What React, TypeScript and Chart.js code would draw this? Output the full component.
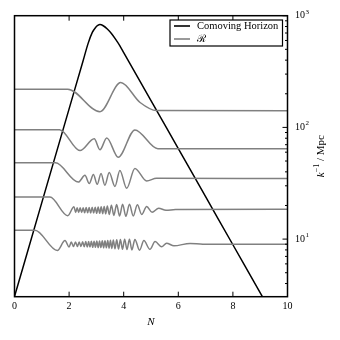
import React, { useEffect, useRef } from 'react';
import { Chart, registerables } from 'chart.js';
Chart.register(...registerables);

// Comoving horizon (k^-1 in Mpc) vs N
const horizonN = [0, 1, 2, 2.5, 2.7, 2.85, 2.97, 3.05, 3.13, 3.25, 3.4, 3.55, 3.7, 3.85, 4, 5, 6, 7, 8, 9.08, 9.3];
const horizonK = [3.06, 21.2, 146.6, 385, 568, 708, 785, 818, 834, 813, 759, 692, 617, 543, 468, 174, 64.6, 24, 8.9, 3.06, 2.45];

// Curvature perturbation tracks (R), five modes
const r1N = [0, 1.95, 3.13, 3.89, 4.6, 5.2, 10];
const r1V = [220, 220, 138, 252, 167, 141.5, 141];

const r2N = [0, 1.65, 2.4, 2.92, 3.13, 3.38, 3.8, 4.41, 5.25, 10];
const r2V = [95.5, 95.5, 62, 79, 63, 80.5, 54, 95, 64.5, 64.5];

const r3N = [0, 1.5, 2.34, 2.58, 2.74, 2.89, 3.03, 3.17, 3.31, 3.47, 3.68, 3.86, 4.11, 4.41, 4.84, 5.2, 10];
const r3V = [48.2, 48.2, 32.4, 37.2, 31.5, 37.9, 30.9, 38.7, 30.3, 39.5, 29.6, 41.2, 28.5, 42.9, 33.2, 35.0, 34.8];

const r4N = [0, 1.3, 1.95, 2.18, 2.24, 2.295, 2.35, 2.405, 2.46, 2.515, 2.57, 2.625, 2.68, 2.735, 2.79, 2.845, 2.9, 2.955, 3.01, 3.065, 3.12, 3.175, 3.23, 3.285, 3.34, 3.4, 3.47, 3.55, 3.64, 3.74, 3.85, 3.96, 4.08, 4.21, 4.35, 4.5, 4.66, 4.84, 5.04, 5.28, 5.55, 5.9, 10];
const r4V = [23.8, 23.8, 16.2, 19.5, 17.3, 19.1, 17.3, 19.1, 17.3, 19.1, 17.2, 19.2, 17.2, 19.2, 17.1, 19.3, 17.1, 19.3, 17.0, 19.4, 17.0, 19.5, 16.9, 19.6, 16.8, 19.8, 16.6, 20.1, 16.3, 20.4, 16.1, 20.5, 16.0, 20.5, 16.1, 20.3, 16.6, 19.6, 17.4, 18.9, 18.1, 18.4, 18.5];

const r5N = [0, 0.75, 1.57, 1.85, 2.0, 2.08, 2.16, 2.235, 2.305, 2.37, 2.435, 2.495, 2.555, 2.61, 2.665, 2.715, 2.765, 2.815, 2.865, 2.915, 2.965, 3.015, 3.065, 3.115, 3.165, 3.215, 3.265, 3.315, 3.365, 3.415, 3.465, 3.515, 3.565, 3.62, 3.68, 3.745, 3.81, 3.88, 3.955, 4.035, 4.12, 4.21, 4.3, 4.41, 4.58, 4.74, 4.96, 5.15, 5.39, 5.57, 5.84, 6.43, 6.9, 10];
const r5V = [12.0, 12.0, 7.9, 9.7, 8.5, 9.4, 8.6, 9.4, 8.6, 9.4, 8.6, 9.45, 8.55, 9.5, 8.5, 9.5, 8.5, 9.55, 8.45, 9.55, 8.45, 9.6, 8.4, 9.6, 8.4, 9.65, 8.35, 9.65, 8.35, 9.7, 8.3, 9.75, 8.25, 9.8, 8.2, 9.85, 8.15, 9.9, 8.1, 9.95, 8.05, 9.95, 8.0, 9.94, 7.95, 9.7, 8.1, 9.5, 8.55, 9.2, 8.7, 9.15, 9.0, 9.0];

const xTicks = [0, 2, 4, 6, 8, 10];
const yMajor = [10, 100, 1000];
const yMajorExp = ['1', '2', '3'];
const yMinor = [4, 5, 6, 7, 8, 9, 20, 30, 40, 50, 60, 70, 80, 90, 200, 300, 400, 500, 600, 700, 800, 900];
const legendLabels = ['Comoving Horizon', 'ℛ'];

const GRAY = '#808080';

const pts = (xs: number[], ys: number[]) => xs.map((x, i) => ({ x, y: ys[i] }));

export default function App() {
  const ref = useRef<HTMLCanvasElement>(null);
  useEffect(() => {
    const canvas = ref.current!;
    const serif = '"Liberation Serif", "DejaVu Serif", serif';
    const framePlugin = {
      id: 'mplFrame',
      afterDraw(chart: any) {
        const { ctx, chartArea: a, scales } = chart;
        const xs = scales.x;
        const ys = scales.y;
        ctx.save();
        ctx.strokeStyle = '#000';
        ctx.lineWidth = 1.5;
        ctx.strokeRect(a.left, a.top, a.right - a.left, a.bottom - a.top);
        ctx.lineWidth = 1;
        ctx.beginPath();
        for (const t of xTicks) {
          const px = xs.getPixelForValue(t);
          ctx.moveTo(px, a.bottom);
          ctx.lineTo(px, a.bottom - 5);
          ctx.moveTo(px, a.top);
          ctx.lineTo(px, a.top + 5);
        }
        for (const t of yMajor) {
          const py = ys.getPixelForValue(t);
          ctx.moveTo(a.right, py);
          ctx.lineTo(a.right - 5, py);
        }
        for (const t of yMinor) {
          const py = ys.getPixelForValue(t);
          if (py < a.top || py > a.bottom) continue;
          ctx.moveTo(a.right, py);
          ctx.lineTo(a.right - 2.5, py);
        }
        ctx.stroke();

        ctx.fillStyle = '#000';
        ctx.font = `10px ${serif}`;
        ctx.textAlign = 'center';
        ctx.textBaseline = 'middle';
        for (const t of xTicks) ctx.fillText(String(t), xs.getPixelForValue(t), a.bottom + 10);

        ctx.textAlign = 'left';
        yMajor.forEach((t, i) => {
          const py = ys.getPixelForValue(t);
          ctx.font = `10px ${serif}`;
          ctx.fillText('10', a.right + 7.5, py);
          const w = ctx.measureText('10').width;
          ctx.font = `7px ${serif}`;
          ctx.fillText(yMajorExp[i], a.right + 7.5 + w + 0.5, py - 4);
        });

        ctx.font = `italic 11px ${serif}`;
        ctx.textAlign = 'center';
        ctx.fillText('N', (a.left + a.right) / 2, 322);

        // rotated y title
        ctx.save();
        ctx.translate(321, (a.top + a.bottom) / 2);
        ctx.rotate(-Math.PI / 2);
        ctx.textAlign = 'left';
        const parts = [
          { t: 'k', f: `italic 11px ${serif}`, dy: 0 },
          { t: '−1', f: `8px ${serif}`, dy: -4 },
          { t: ' / Mpc', f: `11px ${serif}`, dy: 0 },
        ];
        let total = 0;
        for (const p of parts) { ctx.font = p.f; total += ctx.measureText(p.t).width; }
        let cx = -total / 2;
        for (const p of parts) {
          ctx.font = p.f;
          ctx.fillText(p.t, cx, p.dy);
          cx += ctx.measureText(p.t).width;
        }
        ctx.restore();

        // legend
        const lx0 = 170, ly0 = 20, lx1 = 282.5, ly1 = 46;
        ctx.fillStyle = '#fff';
        ctx.fillRect(lx0, ly0, lx1 - lx0, ly1 - ly0);
        ctx.strokeStyle = '#000';
        ctx.lineWidth = 1.2;
        ctx.strokeRect(lx0, ly0, lx1 - lx0, ly1 - ly0);
        const rows = [26, 39];
        const cols = ['#000', GRAY];
        rows.forEach((ry, i) => {
          ctx.strokeStyle = cols[i];
          ctx.lineWidth = 1.6;
          ctx.beginPath();
          ctx.moveTo(174, ry);
          ctx.lineTo(190, ry);
          ctx.stroke();
          ctx.fillStyle = '#000';
          ctx.font = `10.5px ${serif}`;
          ctx.textAlign = 'left';
          ctx.textBaseline = 'middle';
          ctx.fillText(legendLabels[i], 197, ry);
        });
        ctx.restore();
      },
    };

    const rSets = [
      [r1N, r1V], [r2N, r2V], [r3N, r3V], [r4N, r4V], [r5N, r5V],
    ].map(([n, v], i) => ({
      label: 'R' + i,
      data: pts(n as number[], v as number[]),
      borderColor: GRAY,
      borderWidth: 1.5,
      pointRadius: 0,
      fill: false,
      cubicInterpolationMode: 'monotone' as const,
    }));

    const chart = new Chart(canvas, {
      type: 'line',
      data: {
        datasets: [
          ...rSets,
          {
            label: 'Comoving Horizon',
            data: pts(horizonN, horizonK),
            borderColor: '#000',
            borderWidth: 1.5,
            pointRadius: 0,
            fill: false,
            cubicInterpolationMode: 'monotone' as const,
          },
        ],
      },
      options: {
        responsive: false,
        animation: false,
        devicePixelRatio: 1,
        layout: { padding: { left: 14.5, right: 52.5, top: 15.7, bottom: 43.3 } },
        scales: {
          x: { type: 'linear', min: 0, max: 10, display: false },
          y: { type: 'logarithmic', min: 3.05, max: 1000, display: false },
        },
        plugins: { legend: { display: false }, tooltip: { enabled: false } },
      },
      plugins: [framePlugin],
    } as any);
    return () => chart.destroy();
  }, []);
  return (
    <div style={{ position: 'absolute', left: 0, top: 0, width: 340, height: 340, background: '#fff' }}>
      <canvas ref={ref} width={340} height={340} style={{ display: 'block' }} />
    </div>
  );
}
